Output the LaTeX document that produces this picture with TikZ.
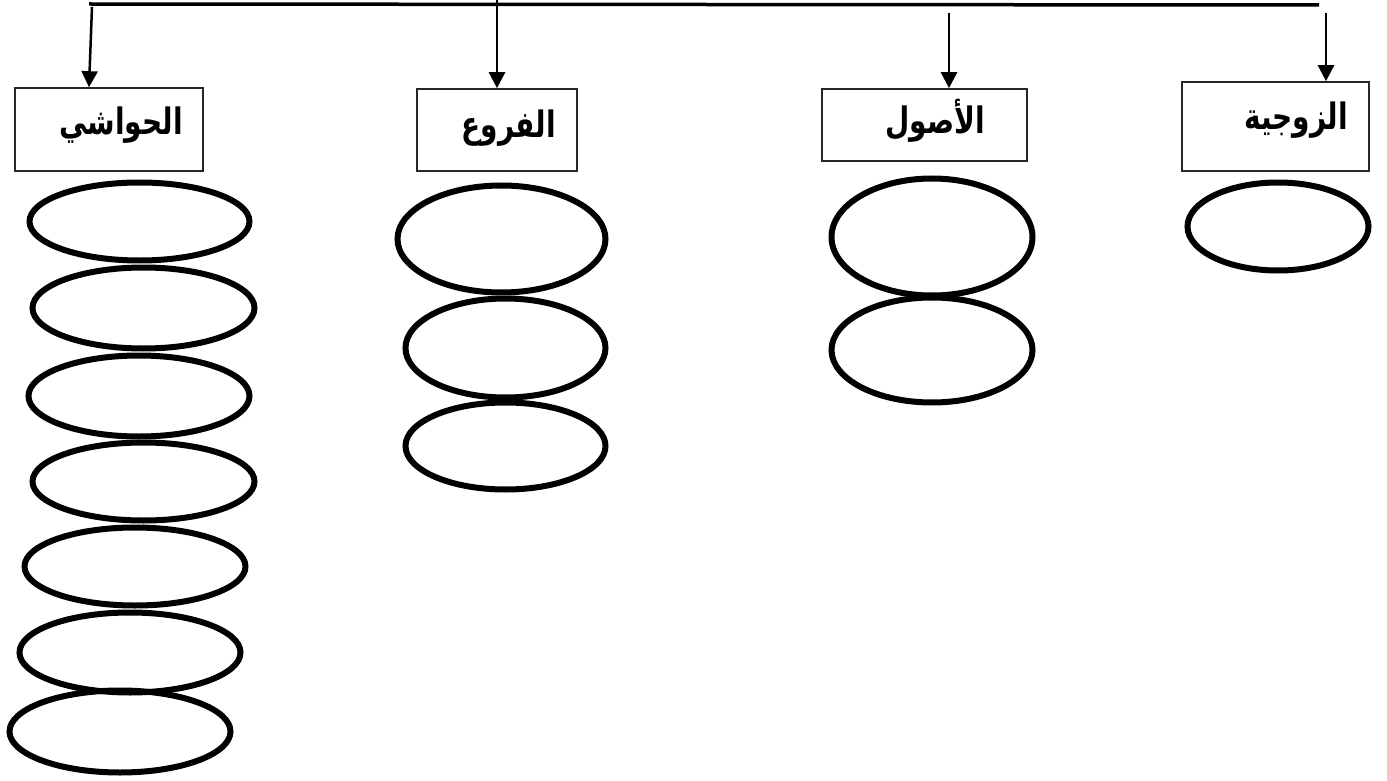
\documentclass[tikz,border=0pt]{standalone}
\usepackage{fontspec}
\usepackage{graphicx}
\newfontfamily\arabicfont[Script=Arabic]{DejaVu Sans}
\TeXXeTstate=1
\usetikzlibrary{arrows.meta,shapes.geometric}
\newcommand{\arlbl}[1]{\scalebox{1}[1.3]{\beginR #1\endR}}
\tikzset{
  box/.style={draw=black!85, line width=1.6pt, rectangle, inner sep=0pt},
  oval/.style={draw=black, line width=6pt, ellipse, inner sep=0pt},
  lbl/.style={inner sep=0pt, font=\arabicfont\bfseries\fontsize{28}{34}\selectfont},
  arr/.style={line width=2.5pt, -{Triangle[width=16pt,length=16pt]}},
  bus/.style={line width=3.5pt}
}
\begin{document}
\begin{tikzpicture}[x=1pt,y=-1pt]
\useasboundingbox (0,0) rectangle (1387,781);
% boxes (centre, size)
\node[box, minimum width=188pt, minimum height=83pt] (b1) at (109,129.5) {};
\node[box, minimum width=160pt, minimum height=82pt] (b2) at (497,130) {};
\node[box, minimum width=205pt, minimum height=72pt] (b3) at (924.5,125) {};
\node[box, minimum width=187pt, minimum height=89pt] (b4) at (1275.5,126.5) {};
% labels
\node[lbl, anchor=base east] (t1) at (183,135) {\arlbl{الحواشي}};
\node[lbl, anchor=base east] (t2) at (556,138) {\arlbl{الفروع}};
\node[lbl, anchor=base east] (t3) at (985,134) {\arlbl{الأصول}};
\node[lbl, anchor=base east] (t4) at (1348,130) {\arlbl{الزوجية}};
% bus and arrows
\coordinate (bl) at (89,4);
\coordinate (br) at (1319,5);
\coordinate (stub) at (497,-2);
\coordinate (s1) at (92,7);
\coordinate (s2) at (497,4);
\coordinate (s3) at (949,13);
\coordinate (s4) at (1326,13);
\draw[bus] (bl) -- (br);
\draw[line width=2.5pt] (stub) -- (s2);
\draw[arr] (s1) -- (b1.north -| 89,0);
\draw[arr] (s2) -- (b2.north);
\draw[arr] (s3) -- (b3.north -| s3);
\draw[arr] (s4) -- (b4.north -| s4);
% ellipses: left column
\node[oval, minimum width=220pt, minimum height=78pt] (l1) at (139.5,221.5) {};
\node[oval, minimum width=222pt, minimum height=81pt] (l2) at (143.5,308) {};
\node[oval, minimum width=221pt, minimum height=81pt] (l3) at (139,396) {};
\node[oval, minimum width=222pt, minimum height=78pt] (l4) at (143.5,481.5) {};
\node[oval, minimum width=221pt, minimum height=78pt] (l5) at (135,566.5) {};
\node[oval, minimum width=221pt, minimum height=80pt] (l6) at (130,652.5) {};
\node[oval, minimum width=221pt, minimum height=82pt] (l7) at (120,731.5) {};
% middle column
\node[oval, minimum width=208pt, minimum height=107pt] (m1) at (501.5,239) {};
\node[oval, minimum width=200pt, minimum height=99pt] (m2) at (505.5,348) {};
\node[oval, minimum width=200pt, minimum height=87pt] (m3) at (505.5,446) {};
% usul column
\node[oval, minimum width=201pt, minimum height=117pt] (u1) at (932,237) {};
\node[oval, minimum width=201pt, minimum height=105pt] (u2) at (932,350) {};
% zawjiyya
\node[oval, minimum width=181pt, minimum height=88pt] (z1) at (1278,226.5) {};
\end{tikzpicture}
\end{document}
